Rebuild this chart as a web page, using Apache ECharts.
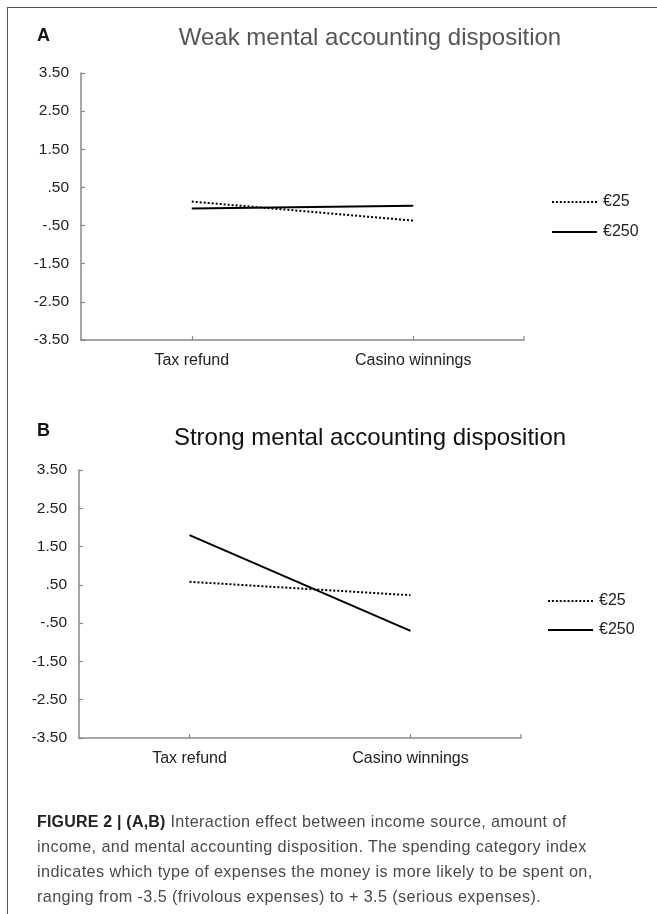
<!DOCTYPE html>
<html>
<head>
<meta charset="utf-8">
<script src="https://cdn.jsdelivr.net/npm/echarts@6/dist/echarts.min.js"></script>
<style>
  html, body { margin: 0; padding: 0; background: #fff; }
  #wrap { position: relative; width: 657px; height: 914px; overflow: hidden; }
  #frame { position: absolute; left: 7px; top: 7px; width: 700px; height: 1000px;
           border-left: 1.5px solid #555; border-top: 1.5px solid #555; }
  #chart { position: absolute; left: 0; top: 0; width: 657px; height: 914px; }
  #caption { position: absolute; left: 37px; top: 809px; width: 618px;
             font-family: "Liberation Sans", Arial, sans-serif; font-size: 16.2px;
             letter-spacing: 0.4px; line-height: 25px; color: #4a4a4a; white-space: nowrap; }
  #caption b { color: #222; font-size: 16px; letter-spacing: 0.2px; }
</style>
</head>
<body>
<div id="wrap">
  <div id="frame"></div>
  <div id="chart"></div>
  <div id="caption"><b>FIGURE 2 | (A,B)</b> Interaction effect between income source, amount of<br>income, and mental accounting disposition. The spending category index<br>indicates which type of expenses the money is more likely to be spent on,<br>ranging from -3.5 (frivolous expenses) to + 3.5 (serious expenses).</div>
</div>
<script>
// ---- data ----
const categories = ['Tax refund', 'Casino winnings'];
const seriesNames = ['€25', '€250'];
const weak25 = [0.13, -0.37];
const weak250 = [-0.05, 0.02];
const strong25 = [0.58, 0.23];
const strong250 = [1.80, -0.70];
const panelTitles = ['Weak mental accounting disposition', 'Strong mental accounting disposition'];
const panelLetters = ['A', 'B'];
const yTickValues = [-3.5, -2.5, -1.5, -0.5, 0.5, 1.5, 2.5, 3.5];
const yTickLabels = ['-3.50', '-2.50', '-1.50', '-.50', '.50', '1.50', '2.50', '3.50'];

const FONT = '"Liberation Sans", Arial, sans-serif';
const axisColor = '#888';

// legend icons (drawn as filled paths)
const solidIcon = 'path://M0,0h45v2h-45z';
let dotPath = 'path://';
for (let x = 0; x < 45; x += 4) dotPath += 'M' + x + ',0h2v2h-2z';
const dottedIcon = dotPath;

function yAxis(gridIndex) {
  return {
    type: 'value', gridIndex: gridIndex, min: -3.5, max: 3.5, interval: 1,
    axisLine: { show: true, onZero: false, lineStyle: { color: axisColor, width: 1.5 } },
    axisTick: { show: true, inside: true, length: 4, lineStyle: { color: axisColor, width: 1.2 } },
    splitLine: { show: false },
    axisLabel: {
      margin: 12, color: '#222', fontSize: 15.5, fontFamily: FONT,
      formatter: function (v) {
        let best = 0;
        for (let i = 0; i < yTickValues.length; i++) {
          if (Math.abs(yTickValues[i] - v) < Math.abs(yTickValues[best] - v)) best = i;
        }
        return yTickLabels[best];
      }
    }
  };
}
function xAxis(gridIndex) {
  return {
    type: 'category', gridIndex: gridIndex, data: categories, boundaryGap: true,
    axisLine: { show: true, onZero: false, lineStyle: { color: axisColor, width: 1.5 } },
    axisTick: { show: true, inside: true, length: 4, alignWithLabel: true, lineStyle: { color: axisColor, width: 1.2 } },
    axisLabel: { margin: 13, color: '#222', fontSize: 16, fontFamily: FONT },
    splitLine: { show: false }
  };
}
function lineSeries(name, data, idx, dotted) {
  return {
    name: name, type: 'line', xAxisIndex: idx, yAxisIndex: idx, data: data,
    symbol: 'none', silent: true, animation: false,
    lineStyle: dotted ? { color: '#000', width: 2, type: [2, 2] } : { color: '#000', width: 2, type: 'solid' },
    itemStyle: { color: '#000' }
  };
}
function legend(left, top, gap) {
  return {
    orient: 'vertical', left: left, top: top,
    data: [{ name: seriesNames[0], icon: dottedIcon }, { name: seriesNames[1], icon: solidIcon }],
    itemWidth: 45, itemHeight: 2, itemGap: gap, selectedMode: false,
    itemStyle: { color: '#000' },
    textStyle: { color: '#222', fontSize: 16, fontFamily: FONT, padding: [0, 0, 0, 1] }
  };
}

const chart = echarts.init(document.getElementById('chart'), null, { renderer: 'canvas' });
chart.setOption({
  backgroundColor: 'transparent',
  animation: false,
  title: [
    { text: panelTitles[0], left: 365, top: 21, textAlign: 'center',
      textStyle: { color: '#555', fontSize: 24, fontWeight: 'normal', fontFamily: FONT } },
    { text: panelTitles[1], left: 365, top: 421, textAlign: 'center',
      textStyle: { color: '#111', fontSize: 24, fontWeight: 'normal', fontFamily: FONT } },
    { text: panelLetters[0], left: 32, top: 22,
      textStyle: { color: '#111', fontSize: 18, fontWeight: 'bold', fontFamily: FONT } },
    { text: panelLetters[1], left: 32, top: 417,
      textStyle: { color: '#111', fontSize: 18, fontWeight: 'bold', fontFamily: FONT } }
  ],
  legend: [legend(547, 189, 14), legend(543, 588, 13)],
  grid: [
    { left: 81, top: 73, width: 443, height: 267, containLabel: false },
    { left: 79, top: 470, width: 442, height: 268, containLabel: false }
  ],
  xAxis: [xAxis(0), xAxis(1)],
  yAxis: [yAxis(0), yAxis(1)],
  series: [
    lineSeries(seriesNames[0], weak25, 0, true),
    lineSeries(seriesNames[1], weak250, 0, false),
    lineSeries(seriesNames[0], strong25, 1, true),
    lineSeries(seriesNames[1], strong250, 1, false)
  ]
});

// closing tick at the right end of each category axis
const endTicks = [];
[0, 1].forEach(function (i) {
  const c0 = chart.convertToPixel({ xAxisIndex: i }, categories[0]);
  const c1 = chart.convertToPixel({ xAxisIndex: i }, categories[categories.length - 1]);
  const band = (c1 - c0) / (categories.length - 1);
  const xEnd = c1 + band / 2;
  const yBase = chart.convertToPixel({ yAxisIndex: i }, -3.5);
  endTicks.push({ type: 'line', shape: { x1: xEnd, y1: yBase, x2: xEnd, y2: yBase - 4 },
                  style: { stroke: axisColor, lineWidth: 1.2 }, silent: true });
});
chart.setOption({ graphic: endTicks });
</script>
</body>
</html>
